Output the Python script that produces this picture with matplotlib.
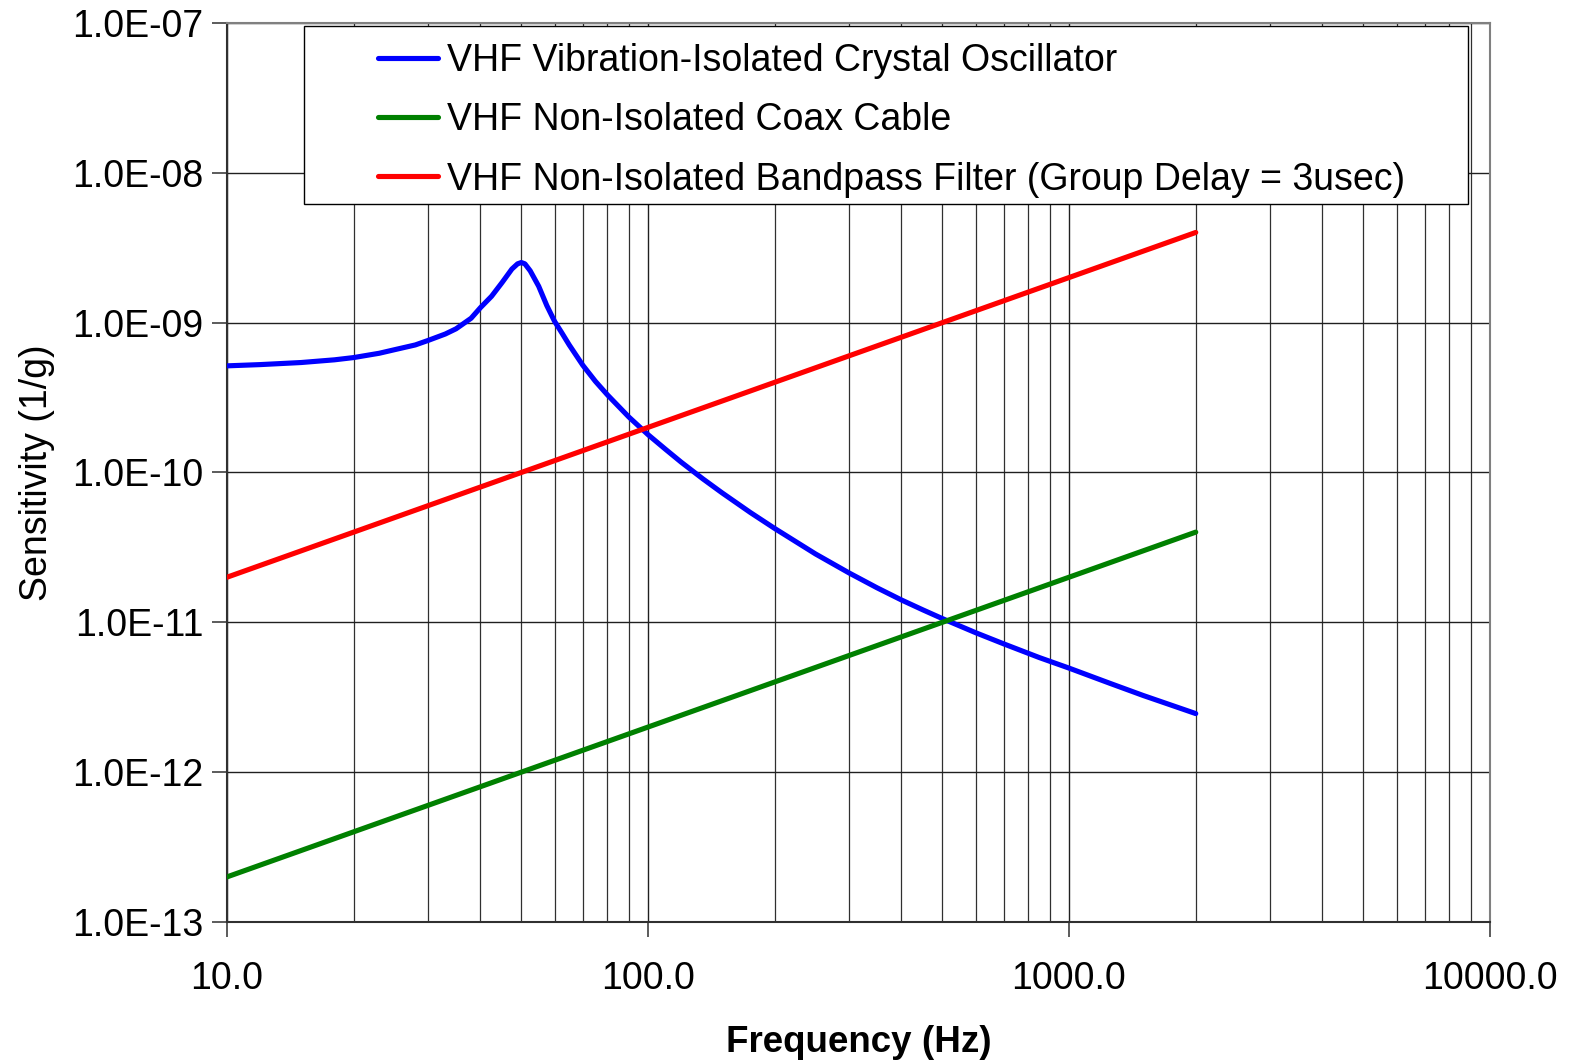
import matplotlib
matplotlib.use("Agg")
import matplotlib.pyplot as plt
from matplotlib.ticker import FixedLocator, NullFormatter, FuncFormatter
from matplotlib.patches import Rectangle

plt.rcParams['font.family'] = ['Liberation Sans', 'DejaVu Sans']

# Data
osc_freq = [10, 12, 15, 18, 20, 23, 25, 28, 30, 33, 35, 38, 40, 42.5, 45, 47.5,
            49, 50, 51, 52.5, 55, 57.5, 60, 62.5, 65, 70, 75, 80, 90, 100, 110,
            120, 135, 150, 175, 200, 250, 300, 350, 400, 450, 500, 600, 700, 850,
            1000, 1250, 1500, 1750, 2000]
osc_sens = [5.15e-10, 5.25e-10, 5.42e-10, 5.65e-10, 5.85e-10, 6.25e-10, 6.6e-10,
            7.1e-10, 7.6e-10, 8.4e-10, 9.1e-10, 1.07e-9, 1.26e-9, 1.5e-9, 1.85e-9,
            2.28e-9, 2.47e-9, 2.52e-9, 2.47e-9, 2.22e-9, 1.75e-9, 1.3e-9, 1.02e-9,
            8.5e-10, 7.1e-10, 5.2e-10, 4.06e-10, 3.31e-10, 2.35e-10, 1.79e-10,
            1.43e-10, 1.17e-10, 9.07e-11, 7.31e-11, 5.41e-11, 4.23e-11, 2.86e-11,
            2.14e-11, 1.70e-11, 1.41e-11, 1.21e-11, 1.06e-11, 8.53e-12, 7.18e-12,
            5.82e-12, 4.95e-12, 3.92e-12, 3.25e-12, 2.8e-12, 2.46e-12]
coax_freq = [10, 2000]
coax_sens = [2e-13, 4e-11]
filt_freq = [10, 2000]
filt_sens = [2e-11, 4e-9]
labels = ["VHF Vibration-Isolated Crystal Oscillator",
          "VHF Non-Isolated Coax Cable",
          "VHF Non-Isolated Bandpass Filter (Group Delay = 3usec)"]
x_ticks = [10, 100, 1000, 10000]
y_ticks = [1e-13, 1e-12, 1e-11, 1e-10, 1e-9, 1e-8, 1e-7]

W, H = 1575, 1064
fig = plt.figure(figsize=(W / 100, H / 100), dpi=100)
ax = fig.add_axes([227 / W, 1 - 922 / H, (1490 - 227) / W, (922 - 23) / H])

ax.set_xscale('log')
ax.set_yscale('log')
ax.set_xlim(10, 10000)
ax.set_ylim(1e-13, 1e-7)

lw = 3.7
l1, = ax.plot(osc_freq, osc_sens, color='#0000ff', lw=lw, solid_capstyle='round',
              solid_joinstyle='round', zorder=3)
l2, = ax.plot(coax_freq, coax_sens, color='#008000', lw=lw, solid_capstyle='round', zorder=3)
l3, = ax.plot(filt_freq, filt_sens, color='#ff0000', lw=lw, solid_capstyle='round', zorder=3)

minor_x = [m * d for d in [10, 100, 1000] for m in range(2, 10)]
ax.xaxis.set_major_locator(FixedLocator(x_ticks))
ax.xaxis.set_minor_locator(FixedLocator(minor_x))
ax.xaxis.set_minor_formatter(NullFormatter())
ax.yaxis.set_major_locator(FixedLocator(y_ticks))
ax.yaxis.set_minor_locator(FixedLocator([]))
ax.xaxis.set_major_formatter(FuncFormatter(lambda v, p: f"{v:.1f}"))
ax.yaxis.set_major_formatter(FuncFormatter(lambda v, p: f"{v:.1E}"))

ax.grid(True, which='major', color='#202020', lw=1.0, zorder=1)
ax.grid(True, which='minor', axis='x', color='#303030', lw=0.9, zorder=1)

ax.tick_params(axis='both', which='major', direction='out', length=11, width=1.2,
               labelsize=27, color='#404040')
ax.tick_params(axis='y', which='major', pad=6)
ax.tick_params(axis='x', which='major', pad=17)
ax.tick_params(axis='both', which='minor', length=0)

for s in ['top', 'right']:
    ax.spines[s].set_color('#808080')
    ax.spines[s].set_linewidth(1.5)
for s in ['left', 'bottom']:
    ax.spines[s].set_color('#303030')
    ax.spines[s].set_linewidth(1.5)

ax.set_xlabel("Frequency (Hz)", fontsize=26.5, fontweight='bold', labelpad=20)
ax.set_ylabel("Sensitivity (1/g)", fontsize=27, labelpad=12)

# legend box
box = Rectangle((304 / W, 1 - 204 / H), (1468 - 304) / W, (204 - 26) / H,
                transform=fig.transFigure, facecolor='white', edgecolor='black',
                lw=1.0, zorder=4)
fig.add_artist(box)

leg = fig.legend([l1, l2, l3], labels, loc='upper left',
                 bbox_to_anchor=(378 / W, 1 - 43 / H),
                 fontsize=27, frameon=False, handlelength=1.6,
                 handletextpad=0.25, labelspacing=0.62, borderpad=0.0,
                 borderaxespad=0)
leg.set_zorder(5)

fig.savefig("out.png", dpi=100)
